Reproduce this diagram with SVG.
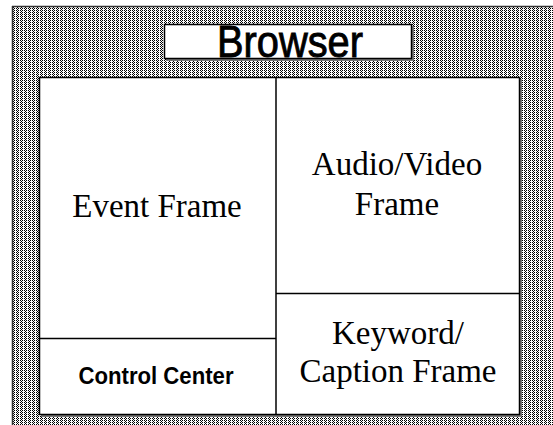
<svg xmlns="http://www.w3.org/2000/svg" width="553" height="425" viewBox="0 0 553 425">
<defs>
<pattern id="dither" x="0" y="0" width="4" height="2" patternUnits="userSpaceOnUse">
<rect width="4" height="2" fill="#ffffff"/>
<rect x="0" y="0" width="1" height="1" fill="#000000"/>
<rect x="2" y="0" width="1" height="1" fill="#000000"/>
<rect x="1" y="1" width="1" height="1" fill="#000000"/>
</pattern>
</defs>
<style>
.panel{fill:#ffffff;stroke:#000000;stroke-width:1.5}
.serif{font-family:"Liberation Serif","Times New Roman",serif;font-size:33px;fill:#000000;text-anchor:middle}
.title{font-family:"Liberation Sans",Arial,sans-serif;font-weight:normal;font-size:44px;fill:#000000;stroke:#000000;stroke-width:0.9;text-anchor:middle}
.label{font-family:"Liberation Sans",Arial,sans-serif;font-weight:bold;font-size:24px;fill:#000000;text-anchor:middle}
.div{stroke:#000000;stroke-width:1.5;fill:none}
</style>
<rect width="553" height="425" fill="#ffffff"/>
<g id="background">
<rect x="12" y="6" width="541" height="419" fill="url(#dither)"/>
<line x1="12" y1="6.5" x2="553" y2="6.5" stroke="#333333" stroke-width="1.5"/>
<line x1="12.5" y1="6" x2="12.5" y2="425" stroke="#333333" stroke-width="1.5"/>
</g>
<g id="browser-title">
<rect x="166" y="26" width="248" height="35" fill="#777777"/>
<rect x="164.5" y="24.5" width="247" height="34" class="panel"/>
<text x="290" y="57" class="title" textLength="146" lengthAdjust="spacingAndGlyphs">Browser</text>
</g>
<g id="frame">
<rect x="41" y="79" width="481" height="338" fill="#777777"/>
<rect x="39.5" y="77.5" width="480" height="337" class="panel"/>
</g>
<g id="connectors">
<line x1="276" y1="77.5" x2="276" y2="414.5" class="div"/>
<line x1="39.5" y1="338.5" x2="276" y2="338.5" class="div"/>
<line x1="276" y1="293.5" x2="519.5" y2="293.5" class="div"/>
</g>
<g id="event-frame">
<text x="157" y="217" class="serif">Event Frame</text>
</g>
<g id="audio-video-frame">
<text x="397" y="175" class="serif">Audio/Video</text>
<text x="397" y="215" class="serif">Frame</text>
</g>
<g id="keyword-caption-frame">
<text x="398" y="344" class="serif">Keyword/</text>
<text x="398" y="382" class="serif">Caption Frame</text>
</g>
<g id="control-center">
<text x="156" y="384" class="label" textLength="155" lengthAdjust="spacingAndGlyphs">Control Center</text>
</g>
</svg>
